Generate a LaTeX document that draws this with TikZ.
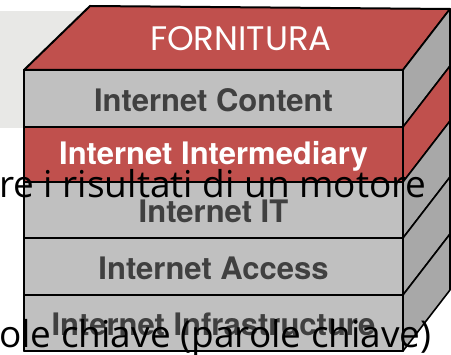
\documentclass[tikz,border=0pt]{standalone}
\usepackage{fontspec}
\setmainfont{Open Sans}
\newfontfamily\stackfont{TeX Gyre Heros}
\newfontfamily\topfont{Poppins}
\usepackage{tikz}

\definecolor{layred}{RGB}{192,80,77}
\definecolor{laygray}{RGB}{192,192,192}
\definecolor{sidegray}{RGB}{168,168,168}
\definecolor{bandgray}{RGB}{232,232,230}
\definecolor{labgray}{RGB}{64,64,64}

\begin{document}
\begin{tikzpicture}[x=1pt,y=-1pt,line join=round,
    layer/.style={draw=black, line width=1.6pt},
    laylabel/.style={inner sep=0pt, font=\stackfont\bfseries\fontsize{31}{31}\selectfont},
    slide/.style={inner sep=0pt, anchor=base west, font=\fontsize{37}{37}\selectfont}]
        \useasboundingbox (0,0) rectangle (451,355);
        \fill[bandgray] (0,11) rectangle (400,128);

        % top of the stack
        \path [layer, fill=layred, line width=2pt] (24,70) -- (90,6) -- (450,9) -- (403,70) -- cycle;
        \node[text=white, inner sep=0pt, font=\topfont\fontsize{34}{34}\selectfont] (top) at (241,39) {FORNITURA};

        % the five layers, front face and side face
        \foreach \a/\b/\fc/\sc/\tc/\lab [count=\i] in {
            70/127/laygray/sidegray/labgray/Internet Content,
            127/182/layred/layred/white/Internet Intermediary,
            182/238/laygray/sidegray/labgray/Internet IT,
            238/295/laygray/sidegray/labgray/Internet Access,
            295/351/laygray/sidegray/labgray/Internet Infrastructure}
        {
        \path [layer, fill=\fc] (24,\a) rectangle (403,\b);
        \path [layer, fill=\sc] (403,\a) -- (450,\a-61) -- (450,\b-61) -- (403,\b) -- cycle;
        \node[laylabel, text=\tc] (lay\i) at (213.5,{(\a+\b)/2+1.5}) {\lab};
        }
        \draw[line width=2.4pt] (24,70) rectangle (403,351);

        % slide text running over the picture
        \node[slide] (line1) at (-1,198) {re i risultati di un motore};
        \node[slide] (line2) at (-1,348) {ole chiave (parole chiave)};
\end{tikzpicture}
\end{document}
